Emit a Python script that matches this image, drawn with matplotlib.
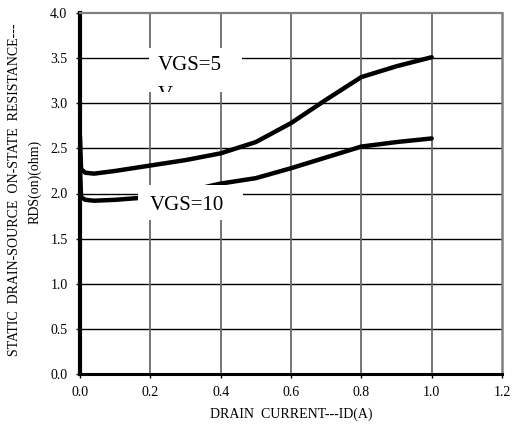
import matplotlib
matplotlib.use("Agg")
import matplotlib.pyplot as plt
from matplotlib.patches import Rectangle

# Data
id_vgs5 = [0.0, 0.003, 0.015, 0.04, 0.1, 0.2, 0.3, 0.4, 0.46, 0.5, 0.6, 0.7, 0.8, 0.9, 1.0]
r_vgs5 = [2.63, 2.27, 2.23, 2.22, 2.25, 2.31, 2.37, 2.445, 2.52, 2.57, 2.78, 3.04, 3.29, 3.41, 3.51]
id_vgs10 = [0.0, 0.003, 0.015, 0.04, 0.1, 0.2, 0.3, 0.36, 0.4, 0.5, 0.6, 0.7, 0.8, 0.9, 1.0]
r_vgs10 = [2.28, 1.96, 1.93, 1.92, 1.93, 1.96, 2.02, 2.075, 2.11, 2.17, 2.28, 2.40, 2.52, 2.57, 2.61]
x_ticks = [0.0, 0.2, 0.4, 0.6, 0.8, 1.0, 1.2]
y_ticks = [0.0, 0.5, 1.0, 1.5, 2.0, 2.5, 3.0, 3.5, 4.0]
label5 = "VGS=5"
label10 = "VGS=10"
xlabel = "DRAIN  CURRENT---ID(A)"
ylabel1 = "STATIC  DRAIN-SOURCE  ON-STATE  RESISTANCE---"
ylabel2 = "RDS(on)(ohm)"

plt.rcParams['font.family'] = ['Liberation Serif', 'DejaVu Serif']

W, H = 513, 430
fig = plt.figure(figsize=(W / 100, H / 100), dpi=100)
ax = fig.add_axes([80 / W, 1 - 374 / H, 422 / W, 361 / H])

ax.set_xlim(0, 1.2)
ax.set_ylim(0, 4.0)
ax.set_xticks(x_ticks)
ax.set_yticks(y_ticks)
ax.set_xticklabels([f"{v:.1f}" for v in x_ticks], fontsize=10)
ax.set_yticklabels([f"{v:.1f}" for v in y_ticks], fontsize=10)
ax.tick_params(axis='both', length=3, width=1, color='black', pad=6)

# grid: horizontal black, vertical gray
for y in y_ticks[1:-1]:
    ax.axhline(y, color='black', lw=1.0, zorder=1)
for x in x_ticks[1:-1]:
    ax.axvline(x, color='#6a6a6a', lw=1.3, zorder=1)

ax.spines['left'].set_linewidth(3)
ax.spines['left'].set_color('black')
ax.spines['bottom'].set_linewidth(2.2)
ax.spines['bottom'].set_color('black')
ax.spines['top'].set_linewidth(1.6)
ax.spines['top'].set_color('#808080')
ax.spines['right'].set_linewidth(1.8)
ax.spines['right'].set_color('#808080')

ax.plot(id_vgs5, r_vgs5, color='black', lw=3.2, solid_joinstyle='round',
        solid_capstyle='round', zorder=3)
ax.plot(id_vgs10, r_vgs10, color='black', lw=3.2, solid_joinstyle='round',
        solid_capstyle='round', zorder=3)

# label boxes
box5 = Rectangle((0.196, 3.125), 0.265, 0.487, facecolor='white',
                 edgecolor='none', zorder=4)
ax.add_patch(box5)
ax.text(0.222, 3.42, label5, fontsize=15, va='center', ha='left', zorder=5)
tv = ax.text(0.222, 3.09, "V", fontsize=15, va='center', ha='left', zorder=5,
             clip_on=True)
tv.set_clip_path(box5)

box10 = Rectangle((0.165, 1.706), 0.298, 0.388, facecolor='white',
                  edgecolor='none', zorder=4)
ax.add_patch(box10)
ax.text(0.199, 1.87, label10, fontsize=15, va='center', ha='left', zorder=5)

ax.set_xlabel(xlabel, fontsize=10, labelpad=6)
fig.text(15 / W, 1 - 190 / H, ylabel1, rotation=90, fontsize=10,
         ha='center', va='center')
fig.text(35 / W, 1 - 182 / H, ylabel2, rotation=90, fontsize=10,
         ha='center', va='center')

fig.savefig("out.png", dpi=100)
